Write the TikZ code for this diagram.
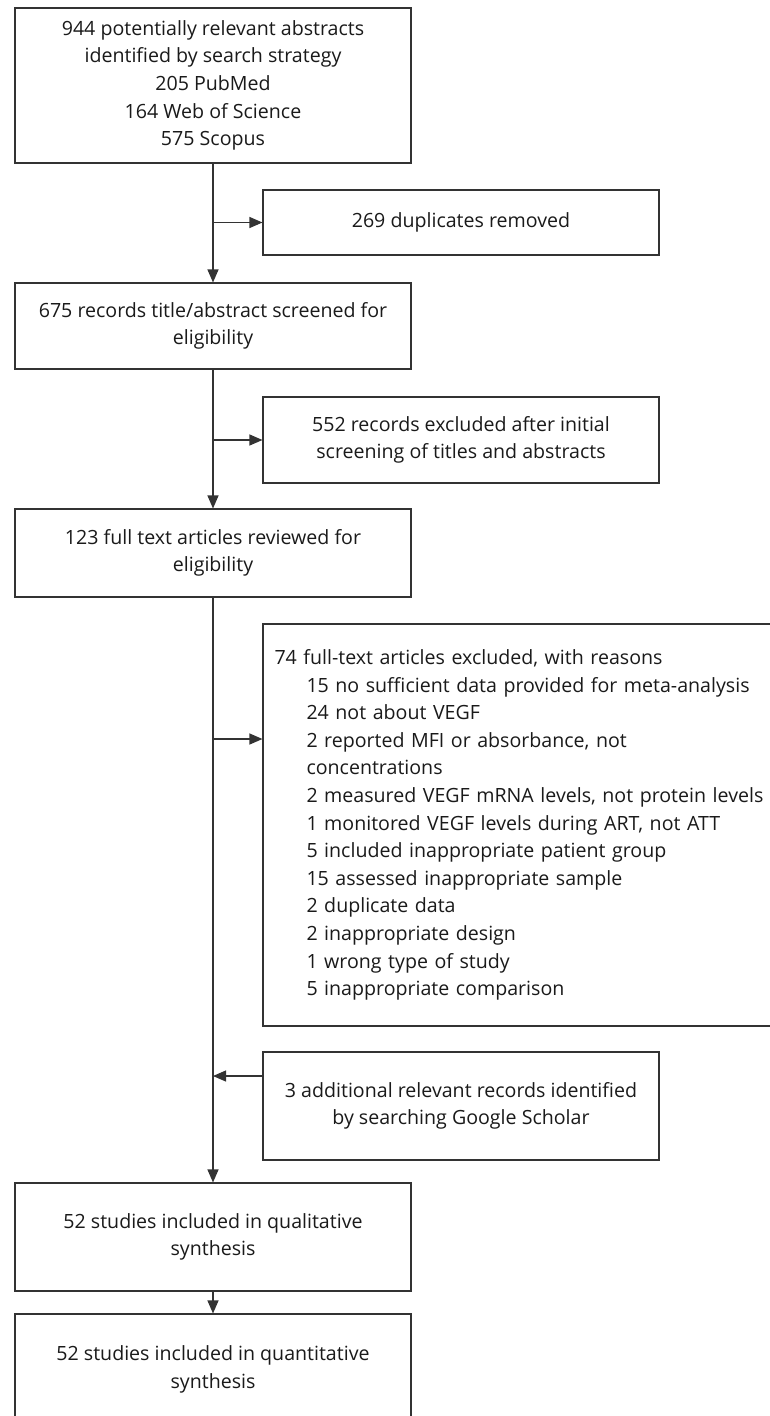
\documentclass[tikz,border=0pt]{standalone}
\usepackage{fontspec}
\setmainfont{Open Sans}
\usetikzlibrary{arrows.meta}
\definecolor{lc}{HTML}{333333}
\definecolor{tc}{HTML}{1A1A1A}
\begin{document}
\begin{tikzpicture}[x=1pt,y=-1pt,
  box/.style={draw=lc, line width=1.1pt, rectangle, inner sep=0pt, text=tc,
    align=center, font=\fontsize{19.6}{27.6}\selectfont},
  arr/.style={draw=lc, line width=1.1pt, -{Triangle[length=13pt,width=11pt]}}]
\useasboundingbox (0,0) rectangle (770,1416);
\clip (0,0) rectangle (770,1416);
\fill[white] (0,0) rectangle (770,1416);

\node[box, minimum width=396pt, minimum height=155pt] (b1) at (213,85.5)
  {944 potentially relevant abstracts\\identified by search strategy\\205 PubMed\\164 Web of Science\\575 Scopus};
\node[box, minimum width=396pt, minimum height=65pt] (b269) at (461,222.5)
  {269 duplicates removed};
\node[box, minimum width=396pt, minimum height=86pt] (b675) at (213,326)
  {675 records title/abstract screened for\\eligibility};
\node[box, minimum width=396pt, minimum height=86pt] (b552) at (461,440)
  {552 records excluded after initial\\screening of titles and abstracts};
\node[box, minimum width=396pt, minimum height=88pt] (b123) at (213,553)
  {123 full text articles reviewed for\\eligibility};
\node[box, minimum width=517pt, minimum height=402pt, align=left, inner xsep=11.5pt,
  text width=494pt] (b74) at (521.5,825)
  {74 full-text articles excluded, with reasons\\
   \hspace*{32pt}15 no sufficient data provided for meta-analysis\\
   \hspace*{32pt}24 not about VEGF\\
   \hspace*{32pt}2 reported MFI or absorbance, not\\
   \hspace*{32pt}concentrations\\
   \hspace*{32pt}2 measured VEGF mRNA levels, not protein levels\\
   \hspace*{32pt}1 monitored VEGF levels during ART, not ATT\\
   \hspace*{32pt}5 included inappropriate patient group\\
   \hspace*{32pt}15 assessed inappropriate sample\\
   \hspace*{32pt}2 duplicate data\\
   \hspace*{32pt}2 inappropriate design\\
   \hspace*{32pt}1 wrong type of study\\
   \hspace*{32pt}5 inappropriate comparison};
\node[box, minimum width=396pt, minimum height=108pt] (badd) at (461,1106)
  {3 additional relevant records identified\\by searching Google Scholar};
\node[box, minimum width=396pt, minimum height=108pt] (bqual) at (213,1237)
  {52 studies included in qualitative\\synthesis};
\node[box, minimum width=396pt, minimum height=111pt] (bquant) at (213,1369.5)
  {52 studies included in quantitative\\synthesis};

\coordinate (j1) at (213,222.5);
\coordinate (j2) at (213,440);
\coordinate (j3) at (213,739);
\coordinate (j4) at (213,1076);

\draw[arr] (b1.south) -- (b675.north);
\draw[arr] (j1) -- (b269.west);
\draw[arr] (b675.south) -- (b123.north);
\draw[arr] (j2) -- (b552.west);
\draw[arr] (b123.south) -- (bqual.north);
\draw[arr] (j3) -- (j3 -| b74.west);
\draw[arr] (j4 -| badd.west) -- (j4);
\draw[arr] (bqual.south) -- (bquant.north);
\end{tikzpicture}
\end{document}
